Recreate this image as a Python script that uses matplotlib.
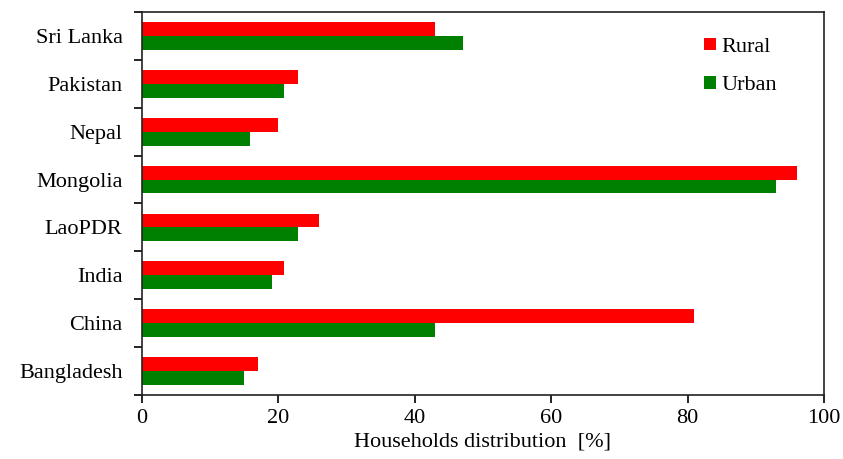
import numpy as np
import matplotlib.pyplot as plt

countries = ['Bangladesh', 'China', 'India', 'LaoPDR', 'Mongolia', 'Nepal', 'Pakistan', 'Sri Lanka']
rural = [17.0, 81.0, 20.8, 26.0, 96.0, 19.9, 22.9, 43.0]
urban = [15.0, 43.0, 19.1, 22.9, 93.0, 15.8, 20.8, 47.1]

plt.rcParams['font.family'] = ['Liberation Serif', 'DejaVu Serif']
plt.rcParams['font.size'] = 16

fig = plt.figure(figsize=(8.43, 4.59), dpi=100)
ax = fig.add_axes([0.1684, 0.1394, 0.8091, 0.8345])

y = np.arange(len(countries))
h = 0.29
ax.barh(y + h / 2, rural, height=h, color='#ff0000', label='Rural')
ax.barh(y - h / 2, urban, height=h, color='#008000', label='Urban')

ax.set_xlim(0, 100)
ax.set_ylim(-0.5, len(countries) - 0.5)
ax.set_xticks([0, 20, 40, 60, 80, 100])
ax.set_yticks(y)
ax.set_yticklabels(countries)
ax.set_yticks(np.arange(-0.5, len(countries)), minor=True)
ax.tick_params(axis='y', which='major', length=0, pad=14)
ax.tick_params(axis='y', which='minor', length=6, width=1.2, direction='out')
ax.tick_params(axis='x', length=6, width=1.2, direction='out', pad=4)
for s in ax.spines.values():
    s.set_linewidth(1.2)
    s.set_color('#222222')

ax.set_xlabel('Households distribution  [%]', labelpad=3)

handles, labels = ax.get_legend_handles_labels()
ax.legend(handles, labels, loc='upper right', bbox_to_anchor=(0.96, 0.985), frameon=False,
          handlelength=0.5, handleheight=0.5, handletextpad=0.25, labelspacing=0.85, fontsize=16)

fig.savefig('out.png', dpi=100)
